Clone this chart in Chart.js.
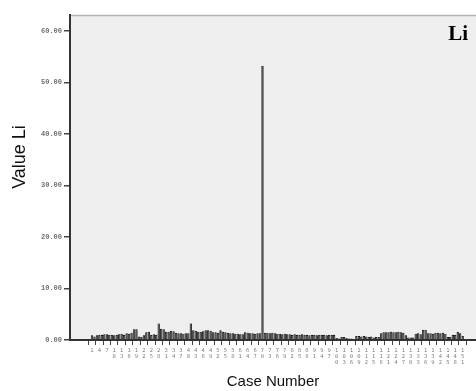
<!DOCTYPE html>
<html>
<head>
<meta charset="utf-8">
<script src="https://cdn.jsdelivr.net/npm/chart.js@4/dist/chart.umd.min.js"></script>
<style>
html,body{margin:0;padding:0;background:#fff;overflow:hidden;}
#wrap{width:476px;height:391px;position:relative;}
</style>
</head>
<body>
<div id="wrap"><canvas id="c" width="476" height="391"></canvas></div>
<script>
// ---- data ----
const chartTitle = "Li";
const yAxisTitle = "Value Li";
const xAxisTitle = "Case Number";
const values = [
  0.9,0.7,0.9,1.0,1.0,1.1,1.1,1.0,1.0,0.9,
  1.0,1.1,1.2,1.0,1.3,1.2,1.4,2.1,2.1,0.7,
  0.6,0.9,1.5,1.6,1.0,1.1,1.0,3.2,2.2,2.1,
  1.6,1.6,1.8,1.7,1.4,1.3,1.3,1.2,1.3,1.3,
  3.2,1.9,1.8,1.6,1.6,1.7,1.9,1.9,1.8,1.5,
  1.5,1.4,1.9,1.6,1.5,1.4,1.3,1.3,1.2,1.2,
  1.1,1.1,1.5,1.4,1.3,1.3,1.2,1.3,1.3,53.2,
  1.4,1.4,1.3,1.4,1.3,1.2,1.2,1.1,1.2,1.1,
  1.1,1.0,1.1,1.0,1.0,1.1,1.0,1.0,0.9,1.0,
  1.0,0.9,1.0,1.0,1.0,0.9,1.0,1.0,1.0,0.4,
  0.3,0.6,0.6,0.4,0.3,0.3,0.2,0.8,0.8,0.7,
  0.8,0.7,0.6,0.7,0.5,0.6,0.6,1.3,1.5,1.5,
  1.5,1.6,1.5,1.5,1.6,1.5,1.4,0.9,0.5,0.5,
  0.5,1.2,1.3,1.1,2.0,2.0,1.3,1.3,1.2,1.4,
  1.4,1.3,1.4,1.2,0.6,0.6,1.0,1.0,1.6,1.3,
  0.8
];
const caseNumbers = values.map((v, i) => i + 1);
const xTickValues = caseNumbers.filter(n => (n - 1) % 3 === 0);
const yTickValues = [0, 10, 20, 30, 40, 50, 60];

const points = caseNumbers.map((n, i) => ({x: n, y: values[i]}));

const decor = {
  id: 'decor',
  beforeDraw(chart) {
    const {ctx, chartArea: a} = chart;
    ctx.save();
    ctx.fillStyle = '#efefef';
    ctx.fillRect(a.left, a.top, a.right - a.left, a.bottom - a.top);
    ctx.strokeStyle = '#b4b4b4';
    ctx.lineWidth = 1.5;
    ctx.beginPath();
    ctx.moveTo(a.left, a.top + 0.5);
    ctx.lineTo(a.right, a.top + 0.5);
    ctx.stroke();
    ctx.restore();
  },
  afterDraw(chart) {
    const {ctx} = chart;
    ctx.save();
    ctx.fillStyle = '#000';
    ctx.font = 'bold 21px "Liberation Serif"';
    ctx.textAlign = 'right';
    ctx.textBaseline = 'alphabetic';
    ctx.fillText(chartTitle, 468, 40);
    ctx.translate(20, 157);
    ctx.rotate(-Math.PI / 2);
    ctx.font = '18px "Liberation Sans"';
    ctx.textAlign = 'center';
    ctx.textBaseline = 'middle';
    ctx.fillStyle = '#111';
    ctx.fillText(yAxisTitle, 0, 0);
    ctx.restore();
  }
};

new Chart(document.getElementById('c'), {
  type: 'bar',
  data: {
    datasets: [{
      data: points,
      backgroundColor: '#3c3c3c',
      borderColor: '#000000',
      borderWidth: 0.8,
      barPercentage: 1.0,
      categoryPercentage: 0.95
    }]
  },
  options: {
    responsive: false,
    animation: false,
    devicePixelRatio: 1,
    layout: {padding: {top: 15, left: 0, right: 0, bottom: 0}},
    plugins: {legend: {display: false}, tooltip: {enabled: false}, title: {display: false}},
    scales: {
      x: {
        type: 'linear',
        min: -7.9,
        max: 156.4,
        offset: false,
        afterFit(s) { s.height = 51; },
        afterBuildTicks(s) { s.ticks = xTickValues.map(v => ({value: v})); },
        grid: {drawOnChartArea: false, drawTicks: true, tickLength: 5, color: '#444', lineWidth: 1},
        border: {display: true, color: '#333', width: 2},
        ticks: {
          autoSkip: false, maxRotation: 0, minRotation: 0, padding: 2,
          color: '#808080',
          font: {family: '"DejaVu Sans Mono"', size: 5.5, lineHeight: 1.15},
          callback: (v) => String(v).split('')
        },
        title: {display: true, text: xAxisTitle, color: '#111',
                font: {family: '"Liberation Sans"', size: 15, lineHeight: 1.2},
                padding: {top: 0, bottom: 0}}
      },
      y: {
        min: 0,
        max: 63.1,
        afterFit(s) { s.width = 70; },
        afterBuildTicks(s) { s.ticks = yTickValues.map(v => ({value: v})); },
        grid: {drawOnChartArea: false, drawTicks: true, tickLength: 6, color: '#444', lineWidth: 1.5},
        border: {display: true, color: '#333', width: 2},
        ticks: {
          padding: 2, color: '#707070',
          font: {family: '"Liberation Mono"', size: 7, weight: 'bold'},
          callback: (v) => Number(v).toFixed(2)
        }
      }
    }
  },
  plugins: [decor]
});
</script>
</body>
</html>
